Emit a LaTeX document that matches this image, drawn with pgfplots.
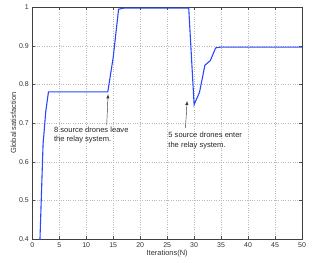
\documentclass[border=0pt]{standalone}
\usepackage{pgfplots}
\pgfplotsset{compat=1.18}
\usepackage{fontspec}
\setmainfont{Liberation Sans}
\begin{document}
\begin{tikzpicture}
\begin{axis}[
  scale only axis,
  width=270bp, height=232bp,
  xmin=0, xmax=50, ymin=0.4, ymax=1,
  xtick={0,5,...,50},
  ytick={0.4,0.5,...,1.0},
  yticklabels={0.4,0.5,0.6,0.7,0.8,0.9,1},
  tick align=inside,
  major tick length=3bp,
  tick style={black!70, line width=0.4pt},
  axis line style={black!75, line width=0.6pt},
  grid=major,
  grid style={dotted, gray!55, line width=0.5pt},
  ticklabel style={font=\fontsize{7}{8}\selectfont, text=black!80},
  /pgf/number format/assume math mode=true,
  xlabel={Iterations(N)},
  ylabel={Global satisfaction},
  label style={font=\fontsize{7.5}{8.5}\selectfont, text=black!80},
  xlabel style={yshift=4.5bp},
  ylabel style={yshift=-4bp},
  clip=true,
]
\addplot[color={rgb,255:red,40;green,70;blue,255}, line width=1.1pt] coordinates {
(1,0.216) (2,0.645) (2.5,0.73) (3,0.781) (14,0.781) (15,0.87) (16,0.995) (17,0.998)
(29,0.998) (30,0.748) (31,0.78) (32,0.85) (33,0.862) (34,0.895) (35,0.897) (50,0.897)
};
\draw[-latex, black!80, line width=0.45pt] (axis cs:13.8,0.695) -- (axis cs:14.05,0.775);
\draw[-latex, black!80, line width=0.45pt] (axis cs:28.4,0.687) -- (axis cs:28.7,0.758);
\node[anchor=north west, align=left, inner sep=0pt, font=\fontsize{7.6}{8.6}\selectfont, text=black!85] at (axis cs:4.0,0.69) {8 source drones leave\\the relay system.};
\node[anchor=north west, align=left, inner sep=0pt, font=\fontsize{7.6}{9.6}\selectfont, text=black!85] at (axis cs:25.2,0.677) {5 source drones enter\\the relay system.};
\end{axis}
\pgfresetboundingbox
\path[use as bounding box] ([shift={(-32.3bp,-23bp)}]current axis.south west) rectangle ([shift={(17bp,7.3bp)}]current axis.north east);
\end{tikzpicture}
\end{document}
